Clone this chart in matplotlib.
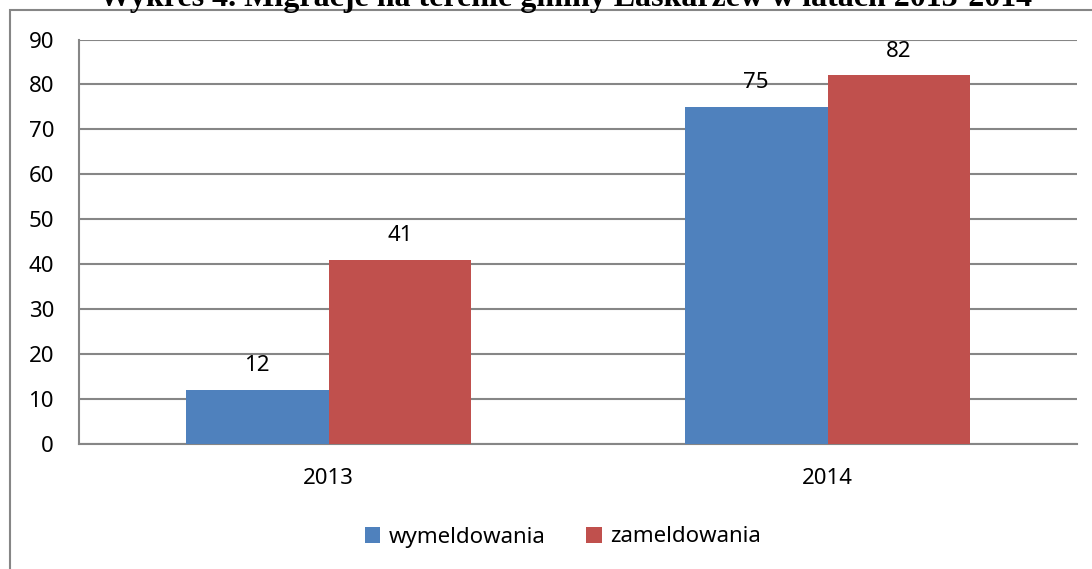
import numpy as np
import matplotlib.pyplot as plt
from matplotlib.patches import Rectangle

# dane
lata = ['2013', '2014']
wymeldowania = [12, 75]
zameldowania = [41, 82]
serie = ['wymeldowania', 'zameldowania']
kolory = ['#4F81BD', '#C0504D']
tytul = 'Wykres 4. Migracje na terenie gminy Łaskarzew w latach 2013-2014'

W, H = 1092, 569
plt.rcParams['font.family'] = ['Noto Sans', 'DejaVu Sans']
fig = plt.figure(figsize=(W / 100, H / 100), dpi=100)

# ramka wykresu
fig.patches.append(Rectangle((10 / W, -0.1), 1.2, 1 - 10 / H + 0.1,
                             transform=fig.transFigure, fill=False,
                             edgecolor='#868686', linewidth=1.5))
fig.text(0.518, 1 - 6 / H, tytul, ha='center', va='baseline',
         fontsize=23, fontweight='bold', family='Liberation Serif')

ax = fig.add_axes([79 / W, (H - 444) / H, (1077 - 79) / W, (444 - 39.5) / H])
x = np.arange(len(lata))
bw = 1 / 1.75 / 2
b1 = ax.bar(x - bw / 2, wymeldowania, bw, color=kolory[0], label=serie[0], zorder=3)
b2 = ax.bar(x + bw / 2, zameldowania, bw, color=kolory[1], label=serie[1], zorder=3)
for bars in (b1, b2):
    ax.bar_label(bars, padding=10, fontsize=16)

ax.set_xlim(-0.5, 1.5)
ax.set_ylim(0, 90)
ax.set_yticks(range(0, 91, 10))
ax.set_xticks(x)
ax.set_xticklabels(lata)
ax.yaxis.grid(True, color='#868686', linewidth=1.5, zorder=0)
ax.tick_params(axis='both', length=0, labelsize=16)
ax.tick_params(axis='y', pad=18)
ax.tick_params(axis='x', pad=17)
for s in ['top', 'right']:
    ax.spines[s].set_visible(False)
for s in ['left', 'bottom']:
    ax.spines[s].set_color('#868686')
    ax.spines[s].set_linewidth(1.5)

ax.legend(loc='center', bbox_to_anchor=(563 / W, 1 - 537 / H),
          bbox_transform=fig.transFigure, ncol=2, frameon=False,
          fontsize=16, handlelength=0.7, handleheight=0.7,
          columnspacing=1.8, handletextpad=0.4)

fig.savefig('out.png', dpi=100)
